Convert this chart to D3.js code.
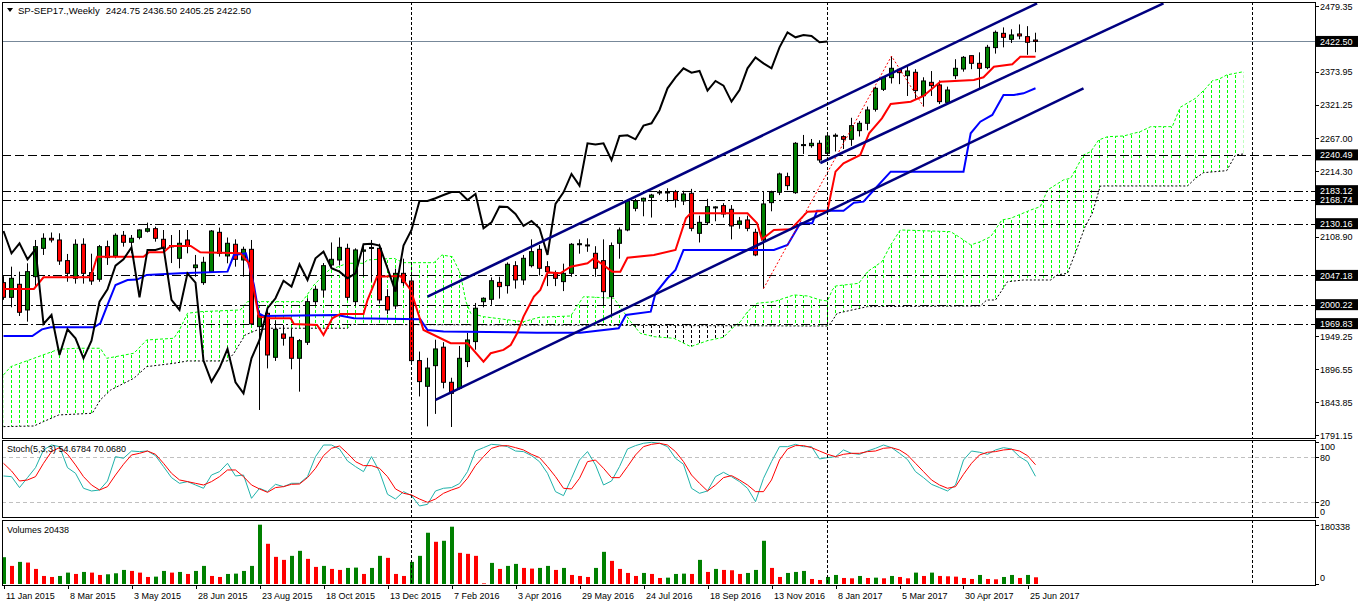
<!DOCTYPE html>
<html lang="en">
<head>
<meta charset="UTF-8">
<title>SP-SEP17 Weekly</title>
<script src="https://d3js.org/d3.v7.min.js"></script>
<style>
    body { margin: 0; background: #fff; }
    svg { display: block; font-family: "Liberation Sans", Arial, sans-serif; }
</style>
</head>
<body>
<svg id="chart" width="1358" height="606"></svg>
<script>
// Weekly bars, 11 Jan 2015 .. 2 Jul 2017 (index 0..129)
const opens = [2035.6,2012.0,2032.9,1991.7,2045.2,2090.6,2106.7,2104.0,2070.9,2042.5,
2097.1,2051.6,2041.0,2093.3,2078.4,2111.5,2100.3,2108.3,2118.0,2122.2,
2105.1,2095.0,2074.6,2104.0,2059.6,2035.6,2053.2,2116.3,2078.4,2097.1,
2071.9,2089.0,1965.0,1986.4,1915.8,1953.2,1947.9,1914.2,1939.9,2005.1,
2023.8,2063.9,2071.9,2090.6,2005.1,2086.0,2092.0,2090.6,2013.1,1998.2,
2050.5,2038.2,1910.5,1869.3,1902.4,1932.0,1875.7,1866.1,1909.0,1941.0,
2005.0,2008.8,2036.0,2030.8,2062.8,2039.9,2062.8,2089.0,2061.2,2051.6,
2037.2,2050.5,2097.0,2096.0,2082.6,2070.9,2013.1,2098.7,2120.1,2154.8,
2166.6,2172.4,2180.0,2180.0,2181.5,2166.6,2178.9,2114.7,2131.8,2156.0,
2159.1,2153.2,2129.1,2136.1,2116.3,2104.0,2163.9,2180.5,2205.6,2179.9,
2256.0,2255.3,2259.1,2243.0,2272.0,2269.8,2265.5,2279.4,2291.2,2313.6,
2345.7,2364.4,2377.8,2367.6,2373.0,2335.5,2356.9,2352.7,2324.8,2367.6,
2378.3,2399.7,2387.4,2380.5,2412.6,2435.5,2425.9,2434.5,2430.2,2424.75];

const highs = [2046,2061.2,2053.2,2066.6,2104.0,2114.7,2116.0,2114.7,2081.6,2105.0,
2106.7,2082.0,2096.0,2103.0,2114.7,2118.4,2112.0,2121.1,2131.8,2125.4,
2120.0,2112.0,2120.0,2120.0,2080.0,2077.0,2120.0,2123.8,2108.0,2105.0,
2093.3,2104.0,1990.0,1990.0,1975.0,1967.7,1962.0,1945.0,2010.5,2030.0,
2067.0,2100.0,2108.0,2098.0,2090.6,2094.0,2104.0,2098.0,2025.0,2058.0,
2074.0,2045.0,1925.0,1915.0,1944.0,1940.0,1883.0,1934.0,1955.0,2003.0,
2012.0,2044.0,2045.0,2068.0,2070.0,2080.0,2105.0,2096.0,2070.0,2055.0,
2066.0,2099.0,2105.0,2106.7,2094.0,2105.0,2100.0,2124.0,2168.7,2170.0,
2172.0,2178.0,2184.0,2187.0,2184.3,2183.0,2186.0,2143.0,2170.0,2158.0,
2163.0,2160.0,2141.0,2143.0,2122.0,2181.0,2183.0,2212.0,2212.0,2261.0,
2272.5,2266.0,2264.0,2272.5,2275.0,2272.0,2300.0,2295.0,2318.0,2350.0,
2367.0,2399.0,2380.0,2384.0,2378.0,2365.0,2375.0,2360.0,2350.0,2394.0,
2399.0,2400.0,2405.0,2417.0,2440.0,2445.0,2442.0,2449.8,2447.0,2436.5];

const lows = [2008,1996.0,1982.1,1973.0,2030.0,2080.0,2100.0,2064.0,2037.0,2034.0,
2034.0,2032.0,2037.0,2064.0,2074.6,2093.3,2082.6,2105.0,2116.0,2101.3,
2085.3,2067.0,2058.6,2082.6,2045.0,2032.0,2052.0,2077.3,2066.6,2061.2,
2045.0,1967.7,1831.3,1898.0,1910.0,1934.5,1896.6,1860.7,1935.6,2000.0,
2012.0,2058.0,2063.0,2007.0,1998.0,2045.0,2037.0,2002.0,1985.0,1993.0,
2030.0,1908.0,1853.0,1805.0,1825.0,1866.0,1804.0,1864.0,1900.0,1928.0,
1996.0,2000.0,2010.0,2018.0,2026.0,2032.0,2060.0,2047.0,2030.0,2030.0,
2022.0,2045.0,2082.0,2085.0,2045.0,1999.0,1985.0,2074.0,2118.0,2150.0,
2142.0,2140.0,2176.0,2165.0,2156.0,2160.0,2118.0,2100.0,2128.0,2134.0,
2140.0,2105.0,2122.0,2118.0,2078.0,2026.0,2150.0,2176.0,2184.0,2178.0,
2242.0,2252.0,2228.0,2241.0,2246.0,2250.0,2255.0,2270.0,2280.0,2310.0,
2343.0,2355.0,2354.0,2335.0,2330.0,2318.0,2335.0,2322.0,2322.0,2362.0,
2374.0,2378.0,2346.0,2378.0,2403.0,2413.0,2420.0,2426.0,2401.0,2405.25];

const closes = [2012.0,2042.5,1988.0,2053.2,2093.3,2106.7,2104.0,2070.3,2050.5,2097.1,
2050.5,2038.2,2093.3,2075.7,2111.5,2100.3,2106.7,2120.1,2122.0,2106.7,
2090.6,2093.0,2098.7,2095.0,2063.9,2068.2,2118.4,2082.6,2098.7,2073.0,
2089.0,1969.3,1983.7,1919.5,1960.7,1946.3,1914.2,1942.5,2005.1,2024.9,
2062.8,2073.0,2092.2,2012.0,2088.0,2088.0,2092.0,2007.8,1991.7,2050.5,
2035.6,1910.5,1876.8,1898.6,1929.2,1875.7,1858.0,1914.2,1943.6,1994.5,
2010.5,2038.7,2029.2,2065.0,2039.9,2074.6,2085.3,2058.6,2053.2,2042.5,
2050.5,2097.1,2098.0,2095.0,2058.6,2021.1,2095.0,2120.1,2166.6,2166.6,
2170.9,2176.1,2181.0,2181.0,2168.2,2177.8,2122.7,2132.3,2157.5,2157.0,
2145.7,2126.5,2134.5,2122.7,2080.0,2161.8,2180.5,2209.9,2191.2,2259.1,
2257.0,2259.1,2232.3,2270.8,2272.0,2265.5,2287.4,2291.2,2312.6,2347.3,
2364.9,2379.4,2372.4,2375.1,2343.6,2359.1,2351.6,2325.9,2344.6,2379.4,
2397.0,2387.4,2379.4,2413.1,2437.1,2429.1,2432.9,2431.3,2421.1,2422.5];

const volumes = [81520,55026,67254,65216,45855,24456,21399,24456,34646,30570,
36684,34646,27513,29551,32608,42798,39741,34646,21399,22418,
39741,34646,36684,30570,39741,55026,24456,21399,30570,31589,
39741,55026,180338,122280,82539,73368,85596,100881,76425,51969,
55026,45855,42798,48912,49931,30570,48912,85596,79482,30570,
24456,67254,85596,155907,128394,131451,174249,94767,91710,85596,
2038,64197,45855,55026,61140,48912,46874,48912,55026,42798,
48912,27513,24456,21399,48912,97824,70311,45855,33627,24456,
33627,30570,18342,19361,30570,31589,30570,73368,36684,45855,
42798,41779,30570,33627,42798,131451,48912,21399,33627,36684,
39741,15285,12228,21399,27513,18342,17323,24456,18342,19361,
17323,24456,21399,17323,34646,24456,34646,24456,23437,22418,
18342,15285,27513,15285,14266,21399,27513,18342,27513,20438];

const stochMain = [55.1,54.2,39.6,52.9,66.2,89.8,96.4,94.2,66.2,58.7,
38.7,35.1,36.4,48.4,80.9,78.7,88.4,87.6,88.4,82.2,
67.6,52.9,45.3,47.6,43.1,38.7,56.4,60.9,72.0,55.1,
56.4,25.3,38.7,34.2,44.0,40.9,45.3,45.3,54.2,80.9,
96.4,96.4,91.1,75.1,67.6,60.9,80.9,60.9,30.7,24.4,
34.2,28.9,15.1,17.3,35.1,38.7,39.6,45.0,60.9,88.4,
92.9,97.3,96.4,94.2,88.4,87.6,82.2,74.2,58.7,34.2,
28.9,52.0,76.4,87.6,69.8,43.1,48.4,67.6,91.1,95.6,
98.7,100,98.7,94.2,78.7,70.7,38.7,32.0,35.1,54.2,
60.0,54.2,47.6,38.7,20.9,52.0,74.2,94.2,94.2,97.3,
94.2,94.2,77.8,79.6,80.9,89.8,85.3,84.0,88.4,92.0,
96.4,92.9,85.3,77.0,60.9,52.9,44.0,39.6,35.1,43.0,
76.4,88.4,86.7,84.0,89.8,92.9,91.1,80.9,74.2,54.6784];

const stochSignal = [72.0,61.8,48.4,49.8,54.2,72.0,87.6,92.9,84.0,69.8,
54.2,43.1,36.4,40.9,56.4,70.7,83.1,85.3,88.4,84.0,
72.0,58.7,49.8,47.6,45.3,43.1,47.6,54.2,63.1,63.1,
54.2,43.1,37.8,33.3,39.6,40.9,44.0,44.4,52.9,65.3,
82.2,92.0,95.1,85.3,74.2,68.9,68.9,65.3,54.2,37.8,
32.0,29.8,24.4,20.0,24.4,32.0,36.4,40.0,52.0,68.9,
80.9,92.0,95.1,95.6,92.9,89.8,84.0,79.6,67.6,54.2,
38.7,37.8,52.0,74.2,76.4,65.3,52.9,52.9,67.6,83.1,
94.2,97.3,98.7,96.4,87.6,74.2,56.4,45.3,35.1,43.1,
52.9,55.6,49.8,43.1,34.2,34.2,49.8,76.4,91.1,95.6,
95.6,92.9,88.4,84.0,80.9,84.0,85.3,85.3,87.6,88.4,
92.0,92.9,89.8,83.1,72.0,60.9,49.8,43.1,38.7,40.9,
57.3,72.0,83.1,86.7,87.6,89.8,90.7,88.4,82.2,70.068];

// Ichimoku lines as [bar, price] vertices
const tenkanPts = [[0,2025.4],[3.8,2025.4],[5,2044.2],[10.9,2044.2],[11.7,2077.2],[17.5,2077.2],[18.2,2084.3],[20,2084.3],
[20.9,2094.4],[23.4,2094.4],[24.6,2084.3],[29.6,2082.7],[30.7,2066.6],[31.9,1981.0],[33.4,1978.4],[35.9,1978.4],
[36.3,1969.3],[39.2,1967.7],[40,1951.6],[41.1,1978.4],[42.1,1985.3],[45,1985.3],[45.5,2007.7],[46.7,2045.1],
[49.6,2046.3],[50.9,2023.8],[52.5,1959.6],[55.9,1938.3],[58,1938.3],[60,1908.8],[60.9,1922.3],[62.5,1927.6],
[63.4,1935.6],[64.2,1954.3],[65,1981.0],[66.3,2013.1],[67.1,2023.8],[68,2052],[69.6,2050.5],[70.9,2061.2],
[73,2066.6],[73.8,2074.6],[76.1,2053.2],[77.1,2053.2],[78,2075.6],[81.3,2080.0],[84,2088.0],[85.3,2138.8],
[85.9,2146.8],[93,2146.8],[94.2,2130.8],[94.8,2105.1],[96.3,2120.1],[98.4,2121.1],[100.5,2149.4],[103,2151.0],
[104,2213.6],[105,2227.0],[107.1,2240.4],[108.2,2275.2],[109.8,2299.2],[110.9,2322.2],[113.4,2325.9],[115,2335.0],
[117.1,2357.9],[121.3,2360.7],[122.5,2365.0],[123.8,2382.0],[126.1,2385.9],[127.1,2398.0],[129,2398.0]];

const kijunPts = [[0,1950.0],[3.6,1950.0],[4.8,1960.7],[5.9,1964.0],[11.3,1964.0],[12.1,1970.4],[13,2000.0],[14,2031.8],
[15.5,2039.8],[16.7,2040.5],[17.9,2047.9],[22.1,2050.6],[28,2053.2],[28.8,2079.9],[30.3,2082.7],[31.3,2031.8],
[31.9,1986.4],[32.5,1982.1],[41.7,1983.7],[43.8,1978.4],[52.1,1976.8],[53,1959.6],[55,1957],[66.7,1955.3],
[72.1,1955.3],[76.9,1962.4],[77.8,1983.7],[80.9,1989.0],[81.5,2018.5],[83,2042.6],[84,2055.9],[85,2087.9],
[96.3,2087.9],[98,2096.0],[99.6,2130.8],[101.1,2131],[101.7,2151.0],[105,2151.0],[106.3,2163.9],[107.5,2165.5],
[108.8,2184.2],[110.9,2213.6],[120,2213.6],[120.9,2275.2],[122.1,2293.8],[123.6,2304.5],[125,2336.6],[126.3,2336.6],
[127.5,2339.3],[129,2347.4]];

const spanAPts = [[0,1887.5],[0.9,1900.8],[3.8,1914.2],[6.9,1928.7],[9.2,1930.3],[12.1,1930.3],[12.9,1914.2],[16.3,1922.3],
[17.9,1943.6],[21.3,1946.3],[22.1,1962.4],[23,1986.4],[24.6,1989.0],[29.6,1991.7],[30.5,2005.1],[37.3,2005.1],
[37.8,2013.1],[38.8,2031.8],[40.7,2055.9],[43,2066.6],[45,2066.6],[45.5,2071.9],[48.8,2074.6],[50,2067.6],
[53.8,2067.6],[54.8,2079.9],[56.1,2077.2],[57.1,2050.6],[57.8,2005.1],[58.4,1986.4],[60,1981.0],[62.5,1976.8],
[65,1972.9],[67,1980.0],[70.9,1982.1],[72.5,2013.1],[76.3,2010.5],[77.5,1989.0],[78.4,1972.9],[79.6,1954.3],
[81.3,1948.9],[83.8,1946.3],[85.9,1932.9],[88,1942.5],[90,1947.9],[91.3,1964.9],[92.1,1972.9],[93,1989.0],
[94.2,2002.5],[96.3,2005.1],[98.8,2015.8],[100.5,2014.2],[102.1,2007.7],[103,2006.2],[103.6,2023.8],[104,2030.2],
[106.9,2034.5],[108,2053.2],[109.8,2069.2],[110.9,2096.0],[112.1,2120.1],[118.4,2117.3],[119.4,2109.3],[120.9,2096.0],
[122.1,2101.3],[123.4,2109.3],[124.8,2136.1],[125.9,2138.8],[128.4,2152.1],[129.6,2157.4],[130.5,2184.2],[132.5,2200.3],
[133.4,2203.0],[134.2,2221.6],[135,2240.4],[135.9,2245.7],[136.9,2264.4],[138,2269.7],[140,2270.8],[142.1,2277.8],
[143.4,2285.8],[146.1,2285.8],[147.1,2316.9],[149,2331.3],[150.3,2347.4],[151.1,2359.5],[151.9,2361.8],[152.9,2368.7],
[155,2374.0]];

const spanBPts = [[0,1804.6],[3.8,1805.6],[5,1812.6],[6.9,1823.3],[11.1,1826.0],[12.1,1847.4],[13.4,1863.4],[16.3,1882.2],
[17.9,1900.8],[21.3,1906.2],[23,1909.9],[28,1909.9],[28.8,1922.3],[30.2,1951.6],[31.7,1959.6],[33.4,1962.4],
[43,1962.4],[43.5,1968.5],[100.9,1966],[103,1966],[103.4,1970.4],[104.2,1986.4],[108,1997.1],[122.1,1998.1],
[122.9,2007.7],[124,2007.7],[125.5,2037.1],[127.5,2039.8],[130.9,2039.8],[131.7,2047.9],[133,2050.6],[134.2,2090.7],
[135.2,2125.4],[136.1,2146.8],[137.1,2190.6],[148,2190.6],[149,2203.0],[150,2212.0],[152.9,2215.2],[154,2240.4],
[155,2242.0]];

const chikouShift = 26;

// drawn objects
const channelLines = [
    [[53.0, 2013.0], [129.2, 2483.7]],
    [[102.1, 2227.5], [145.0, 2483.7]],
    [[54.0, 1847.3], [135.0, 2347.3]]
];
const zigzagPts = [[95, 2026], [111, 2399], [115, 2318]];
const levels = [2240.49, 2183.12, 2168.74, 2130.16, 2047.18, 2000.22, 1969.83];
const askPrice = 2422.50;
const separators = [51, 103, 156];

const priceTicks = [2479.35, 2426.65, 2373.95, 2321.25, 2267.00, 2214.30, 2161.60, 2108.90, 2056.20, 1949.25, 1896.55, 1843.85, 1791.15];
const stochTicks = [100, 80, 20, 0];
const stochLevels = [80, 20];
const volTicks = [180338, 0];
const dateLabels = ["11 Jan 2015", "8 Mar 2015", "3 May 2015", "28 Jun 2015", "23 Aug 2015", "18 Oct 2015",
    "13 Dec 2015", "7 Feb 2016", "3 Apr 2016", "29 May 2016", "24 Jul 2016", "18 Sep 2016", "13 Nov 2016",
    "8 Jan 2017", "5 Mar 2017", "30 Apr 2017", "25 Jun 2017"];
const dateStep = 8;

// layout
const left = 2, right = 1315;
const mainP = {top: 2, bottom: 438};
const stochP = {top: 440, bottom: 517};
const volP = {top: 520, bottom: 584};

const svg = d3.select("#chart");

const x = d3.scaleLinear().domain([0, 129]).range([3.5, 1035.5]);
const y = d3.scaleLinear().domain([1791.15, 2479.35]).range([435, 6]);
const yS = d3.scaleLinear().domain([0, 100]).range([517.3, 442.3]);
const yV = d3.scaleLinear().domain([0, 180338]).range([584, 524.7]);
const step = x(1) - x(0);

const defs = svg.append("defs");
function clipRect(id, p) {
    defs.append("clipPath").attr("id", id).append("rect")
        .attr("x", left).attr("y", p.top).attr("width", right - left).attr("height", p.bottom - p.top);
}
clipRect("clipMain", mainP);
clipRect("clipStoch", stochP);
clipRect("clipVol", volP);

const ptLine = d3.line().x(d => x(d[0])).y(d => y(d[1]));
const areaBelow = d3.area().x(d => x(d[0])).y0(mainP.bottom).y1(d => y(d[1]));
const areaAbove = d3.area().x(d => x(d[0])).y0(mainP.top).y1(d => y(d[1]));
defs.append("clipPath").attr("id", "belowA").append("path").attr("d", areaBelow(spanAPts));
defs.append("clipPath").attr("id", "aboveA").append("path").attr("d", areaAbove(spanAPts));
defs.append("clipPath").attr("id", "belowB").append("path").attr("d", areaBelow(spanBPts));
defs.append("clipPath").attr("id", "aboveB").append("path").attr("d", areaAbove(spanBPts));

function hatch(id, color) {
    const p = defs.append("pattern").attr("id", id).attr("patternUnits", "userSpaceOnUse")
        .attr("x", x(0) - 0.5).attr("y", 0).attr("width", step).attr("height", 5);
    p.append("line").attr("x1", 0.5).attr("x2", 0.5).attr("y1", 0).attr("y2", 3)
        .attr("stroke", color).attr("stroke-width", 1);
}
hatch("hatchG", "#00ff00");
hatch("hatchK", "#000000");

// ---- main panel ----
const gMain = svg.append("g").attr("clip-path", "url(#clipMain)");

// cloud: green where A above B, black where B above A
gMain.append("g").attr("clip-path", "url(#aboveB)")
    .append("rect").attr("x", left).attr("y", mainP.top).attr("width", right - left).attr("height", mainP.bottom - mainP.top)
    .attr("fill", "url(#hatchG)").attr("clip-path", "url(#belowA)");
gMain.append("g").attr("clip-path", "url(#aboveA)")
    .append("rect").attr("x", left).attr("y", mainP.top).attr("width", right - left).attr("height", mainP.bottom - mainP.top)
    .attr("fill", "url(#hatchK)").attr("clip-path", "url(#belowB)");

gMain.append("path").attr("d", ptLine(spanAPts)).attr("fill", "none")
    .attr("stroke", "#00ff00").attr("stroke-width", 1).attr("stroke-dasharray", "3,2");
gMain.append("path").attr("d", ptLine(spanBPts)).attr("fill", "none")
    .attr("stroke", "#000").attr("stroke-width", 1).attr("stroke-dasharray", "2,2");

// horizontal levels
levels.forEach((v, k) => {
    const yy = Math.round(y(v)) + 0.5;
    gMain.append("line").attr("x1", left).attr("x2", right).attr("y1", yy).attr("y2", yy)
        .attr("stroke", "#000").attr("stroke-width", 1)
        .attr("stroke-dasharray", k === 0 ? "9,4" : "9,3,2,3");
});
const askY = Math.round(y(askPrice)) + 0.5;
gMain.append("line").attr("x1", left).attr("x2", right).attr("y1", askY).attr("y2", askY)
    .attr("stroke", "#778899").attr("stroke-width", 1);

// candles
const idx = d3.range(closes.length);
gMain.append("g").selectAll("line").data(idx).join("line")
    .attr("x1", i => x(i)).attr("x2", i => x(i))
    .attr("y1", i => y(highs[i])).attr("y2", i => y(lows[i]))
    .attr("stroke", "#000").attr("stroke-width", 1);
gMain.append("g").selectAll("rect").data(idx).join("rect")
    .attr("x", i => x(i) - 2)
    .attr("width", 4)
    .attr("y", i => y(Math.max(opens[i], closes[i])))
    .attr("height", i => Math.max(1, Math.abs(y(opens[i]) - y(closes[i]))))
    .attr("fill", i => closes[i] >= opens[i] ? "#008000" : "#ff0000")
    .attr("stroke", "#000").attr("stroke-width", 1);

// ichimoku lines
gMain.append("path").attr("d", ptLine(kijunPts)).attr("fill", "none").attr("stroke", "#0000ff").attr("stroke-width", 2);
gMain.append("path").attr("d", ptLine(tenkanPts)).attr("fill", "none").attr("stroke", "#ff0000").attr("stroke-width", 2);
const chikouLine = d3.line().x((d, k) => x(k)).y(d => y(d));
gMain.append("path").attr("d", chikouLine(closes.slice(chikouShift))).attr("fill", "none")
    .attr("stroke", "#000").attr("stroke-width", 2);

// zigzag and channel lines
gMain.append("path").attr("d", ptLine(zigzagPts)).attr("fill", "none")
    .attr("stroke", "#ff0000").attr("stroke-width", 1).attr("stroke-dasharray", "2,2");
channelLines.forEach(seg => {
    gMain.append("path").attr("d", ptLine(seg)).attr("fill", "none")
        .attr("stroke", "#000080").attr("stroke-width", 2.5);
});

// ---- stochastic panel ----
const gSt = svg.append("g").attr("clip-path", "url(#clipStoch)");
stochLevels.forEach(v => {
    const yy = Math.round(yS(v)) + 0.5;
    gSt.append("line").attr("x1", left).attr("x2", right).attr("y1", yy).attr("y2", yy)
        .attr("stroke", "#c0c0c0").attr("stroke-width", 1).attr("stroke-dasharray", "4,3");
});
const stLine = d3.line().x((d, i) => x(i)).y(d => yS(d));
gSt.append("path").attr("d", stLine(stochMain)).attr("fill", "none").attr("stroke", "#20b2aa").attr("stroke-width", 1);
gSt.append("path").attr("d", stLine(stochSignal)).attr("fill", "none").attr("stroke", "#ff0000").attr("stroke-width", 1);

// ---- volume panel ----
const gVol = svg.append("g").attr("clip-path", "url(#clipVol)");
gVol.selectAll("rect").data(idx).join("rect")
    .attr("x", i => x(i) - 1.5).attr("width", 4)
    .attr("y", i => yV(volumes[i])).attr("height", i => yV(0) - yV(volumes[i]))
    .attr("fill", i => (i === 0 || volumes[i] > volumes[i - 1]) ? "#008000" : "#ff0000");

// separators in all panels
[mainP, stochP, volP].forEach(p => {
    separators.forEach(s => {
        const xx = Math.round(x(s)) + 0.5;
        svg.append("line").attr("x1", xx).attr("x2", xx).attr("y1", p.top).attr("y2", p.bottom)
            .attr("stroke", "#000").attr("stroke-width", 1).attr("stroke-dasharray", "3,2");
    });
});

// panel frames
[[mainP, 0], [stochP, 0], [volP, 1]].forEach(([p, extra]) => {
    svg.append("rect").attr("x", left + 0.5).attr("y", p.top + 0.5)
        .attr("width", right - left).attr("height", p.bottom - p.top + extra)
        .attr("fill", "none").attr("stroke", "#000").attr("stroke-width", 1);
});

// ---- right axis ----
const axisX = right + 5;
const boxed = levels.concat([askPrice]).map(v => y(v));
function tickLabel(yy, txt, lo, hi, skipText) {
    const base = Math.max(lo, Math.min(hi, yy + 3.5));
    svg.append("line").attr("x1", right).attr("x2", right + 4).attr("y1", Math.round(yy) + 0.5).attr("y2", Math.round(yy) + 0.5)
        .attr("stroke", "#000");
    if (!skipText) {
        svg.append("text").attr("x", axisX).attr("y", base).attr("font-size", 9).attr("fill", "#000").text(txt);
    }
}
// price labels that would sit under a level box are hidden by it, as on the terminal
priceTicks.forEach(v => tickLabel(y(v), v.toFixed(2), 10, 439, boxed.some(b => Math.abs(b - y(v)) < 10)));
stochTicks.forEach(v => tickLabel(yS(v), String(v), stochP.top + 10, stochP.bottom - 2, false));
volTicks.forEach(v => tickLabel(yV(v), String(v), volP.top + 10, volP.bottom - 3, false));

function boxLabel(v) {
    const yy = y(v);
    svg.append("rect").attr("x", right + 1).attr("y", yy - 5.5).attr("width", 1358 - right - 1).attr("height", 11).attr("fill", "#000");
    svg.append("text").attr("x", axisX).attr("y", yy + 3.5).attr("font-size", 9).attr("fill", "#fff").text(v.toFixed(2));
}
levels.forEach(boxLabel);
boxLabel(askPrice);

// ---- bottom axis ----
dateLabels.forEach((t, k) => {
    const xx = Math.round(x(k * dateStep)) + 0.5;
    svg.append("line").attr("x1", xx).attr("x2", xx).attr("y1", volP.bottom + 1).attr("y2", volP.bottom + 5).attr("stroke", "#000");
    svg.append("text").attr("x", xx + 1.5).attr("y", 599).attr("font-size", 9).attr("fill", "#000").text(t);
});

// ---- titles ----
svg.append("path").attr("d", "M7,8 L13,8 L10,12 Z").attr("fill", "#000");
const title = svg.append("text").attr("x", 18).attr("y", 14).attr("font-size", 9.5).attr("fill", "#000");
title.append("tspan").text("SP-SEP17.,Weekly");
title.append("tspan").attr("dx", 6).text([opens[129], highs[129], lows[129], closes[129]].map(v => v.toFixed(2)).join(" "));
svg.append("text").attr("x", 7).attr("y", 452).attr("font-size", 9).attr("fill", "#000")
    .text("Stoch(5,3,3) " + stochMain[129].toFixed(4) + " " + stochSignal[129].toFixed(4));
svg.append("text").attr("x", 7).attr("y", 533).attr("font-size", 9).attr("fill", "#000")
    .text("Volumes " + volumes[129]);
</script>
</body>
</html>
